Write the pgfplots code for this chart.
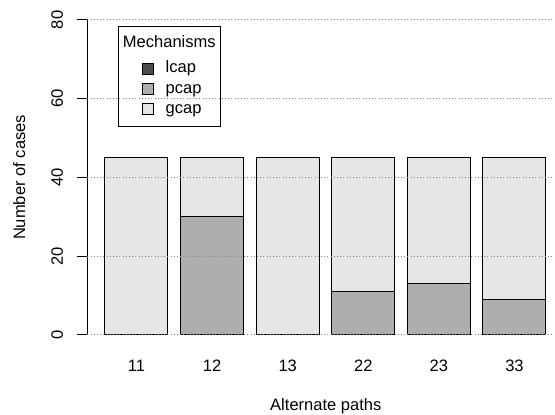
\documentclass[border=0pt]{standalone}
\usepackage{pgfplots}
\usepackage{pgfplotstable}
\pgfplotsset{compat=1.18}
\usepackage{fontspec}
\setmainfont{Liberation Sans}

\definecolor{lcapcol}{HTML}{4D4D4D}
\definecolor{pcapcol}{HTML}{AEAEAE}
\definecolor{gcapcol}{HTML}{E6E6E6}

% cases per alternate path, split by mechanism
\pgfplotstableread{
x   lcap pcap gcap
0.7 0    0    45
1.9 0    30   15
3.1 0    0    45
4.3 0    11   34
5.5 0    13   32
6.7 0    9    36
}\casestable

\begin{document}
\begin{tikzpicture}[font=\fontsize{12.4}{14.5}\selectfont]
\begin{axis}[
  x=47.25pt, y=2.953125pt,
  xmin=-0.08, xmax=7.343, ymin=-3.2, ymax=83.2,
  clip=false, axis on top,
  ybar stacked, bar width=1,
  axis line style={draw=none},
  xtick=data, xticklabels={11,12,13,22,23,33},
  xtick style={draw=none},
  xticklabel style={anchor=north, inner sep=0pt},
  xticklabel shift=1.8pt,
  ytick={0,20,40,60,80}, ytick pos=left, xtick pos=lower,
  tick align=outside, major tick length=7.5pt,
  ytick style={black, line width=0.75pt},
  yticklabel style={rotate=90, anchor=south, inner sep=0pt},
  yticklabel shift=10.5pt,
  ymajorgrids, grid style={dotted, black!50, line width=0.75pt},
  /pgf/number format/assume math mode=true,
  xlabel={Alternate paths},
  xlabel style={at={(axis description cs:0.5099,-0.18345)}, anchor=base, inner sep=0pt},
  ylabel={Number of cases},
  ylabel style={at={(axis description cs:-0.13334,0.5)}, anchor=base, inner sep=0pt},
  legend cell align=left,
  legend image code/.code={\draw[#1, draw=black, line width=0.75pt] (0pt,-4.1pt) rectangle (8.2pt,4.1pt);},
  legend style={at={(axis cs:0.779,69.64)}, anchor=north west, draw=none, fill=none,
    inner sep=0pt, row sep=3.7pt, column sep=9pt,
    nodes={inner sep=0pt, text height=8.9pt, text depth=2.6pt}},
  every axis plot/.append style={draw=black, line width=0.75pt},
]
\addplot[fill=lcapcol] table[x=x, y=lcap] {\casestable};
\addplot[fill=pcapcol] table[x=x, y=pcap] {\casestable};
\addplot[fill=gcapcol] table[x=x, y=gcap] {\casestable};
\legend{lcap,pcap,gcap}

% y axis line spanning the tick range
\draw[line width=0.75pt] (axis cs:-0.08,0) -- (axis cs:-0.08,80);
% legend frame and title
\draw[line width=0.75pt] (axis cs:0.4222,52.83) rectangle (axis cs:2.04,78.30);
\node[anchor=base, inner sep=0pt] at (axis cs:1.2206,73.07) {Mechanisms};

\coordinate (bbll) at (axis cs:-1.4667,-20.317);
\coordinate (bbur) at (axis cs:7.343,85.079);
\end{axis}
\pgfresetboundingbox
\useasboundingbox (bbll) rectangle (bbur);
\end{tikzpicture}
\end{document}
